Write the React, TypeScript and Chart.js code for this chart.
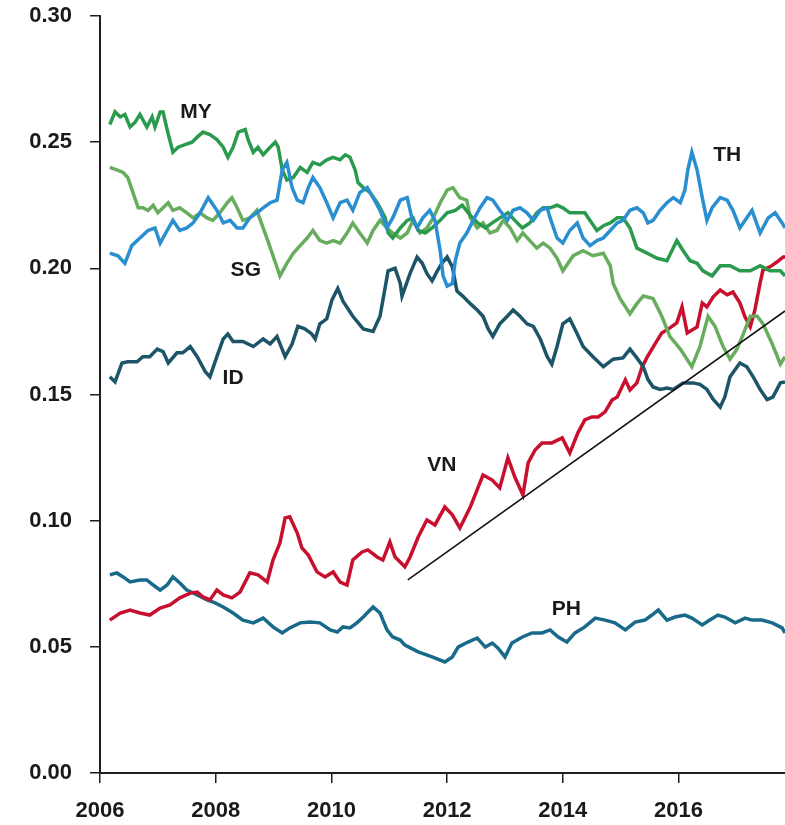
import React, { useEffect, useRef } from 'react';
import { Chart, registerables } from 'chart.js';

Chart.register(...registerables);

// ---------- axis ticks ----------
const X_TICKS = [2006, 2008, 2010, 2012, 2014, 2016];
const X_MIN = 2006;
const X_MAX = 2017.84;
const Y_TICKS = [0, 0.05, 0.1, 0.15, 0.2, 0.25, 0.3];

// ---------- series: MY ----------
const MY_YEARS = [2006.17,2006.26,2006.35,2006.43,2006.52,2006.61,2006.69,2006.81,2006.90,2006.95,
  2007.04,2007.09,2007.16,2007.26,2007.35,2007.47,2007.59,2007.68,2007.78,2007.90,
  2008.02,2008.13,2008.21,2008.30,2008.39,2008.51,2008.56,2008.65,2008.73,2008.82,
  2008.94,2009.03,2009.08,2009.15,2009.23,2009.34,2009.46,2009.58,2009.68,2009.80,
  2009.92,2010.03,2010.15,2010.24,2010.32,2010.41,2010.46,2010.55,2010.67,2010.79,
  2010.84,2010.93,2010.98,2011.06,2011.19,2011.31,2011.41,2011.50,2011.62,2011.74,
  2011.88,2012.00,2012.14,2012.26,2012.40,2012.53,2012.66,2012.78,2012.91,2013.05,
  2013.17,2013.30,2013.43,2013.55,2013.66,2013.78,2013.90,2014.00,2014.12,2014.25,
  2014.38,2014.50,2014.59,2014.71,2014.82,2014.94,2015.04,2015.16,2015.28,2015.46,
  2015.63,2015.80,2015.97,2016.08,2016.20,2016.32,2016.42,2016.58,2016.72,2016.89,
  2017.06,2017.24,2017.41,2017.58,2017.76,2017.84];
const MY_VALUES = [0.257,0.262,0.260,0.261,0.256,0.258,0.261,0.256,0.260,0.256,
  0.262,0.262,0.255,0.246,0.248,0.249,0.250,0.252,0.254,0.253,
  0.251,0.248,0.244,0.248,0.254,0.255,0.251,0.246,0.248,0.245,
  0.248,0.250,0.248,0.239,0.235,0.236,0.240,0.238,0.242,0.241,
  0.243,0.244,0.243,0.245,0.244,0.239,0.234,0.232,0.230,0.226,
  0.224,0.220,0.214,0.212,0.216,0.219,0.220,0.215,0.214,0.216,
  0.219,0.222,0.223,0.225,0.221,0.218,0.216,0.218,0.220,0.222,
  0.219,0.216,0.218,0.222,0.224,0.224,0.225,0.224,0.222,0.222,
  0.222,0.218,0.215,0.217,0.218,0.220,0.220,0.216,0.208,0.206,
  0.204,0.203,0.211,0.207,0.203,0.202,0.199,0.197,0.201,0.201,
  0.199,0.199,0.201,0.199,0.199,0.197];

// ---------- series: SG ----------
const SG_YEARS = [2006.17,2006.29,2006.40,2006.48,2006.57,2006.66,2006.74,2006.83,2006.92,2007.00,
  2007.09,2007.18,2007.26,2007.38,2007.50,2007.61,2007.73,2007.85,2007.95,2008.07,
  2008.20,2008.28,2008.37,2008.47,2008.59,2008.71,2008.82,2008.90,2008.99,2009.11,
  2009.23,2009.34,2009.46,2009.58,2009.68,2009.80,2009.92,2010.03,2010.15,2010.27,
  2010.37,2010.49,2010.62,2010.72,2010.84,2010.96,2011.06,2011.19,2011.31,2011.41,
  2011.53,2011.65,2011.76,2011.88,2012.00,2012.10,2012.22,2012.34,2012.40,2012.52,
  2012.62,2012.74,2012.86,2012.97,2013.09,2013.21,2013.31,2013.43,2013.55,2013.66,
  2013.78,2013.90,2014.00,2014.18,2014.35,2014.52,2014.70,2014.82,2014.87,2014.99,
  2015.16,2015.28,2015.39,2015.56,2015.71,2015.85,2016.03,2016.23,2016.37,2016.51,
  2016.63,2016.77,2016.89,2017.01,2017.12,2017.24,2017.36,2017.46,2017.62,2017.76,
  2017.84];
const SG_VALUES = [0.240,0.239,0.238,0.236,0.230,0.224,0.224,0.223,0.225,0.222,
  0.224,0.226,0.223,0.224,0.222,0.220,0.222,0.220,0.219,0.222,
  0.226,0.228,0.224,0.219,0.220,0.223,0.216,0.211,0.205,0.197,
  0.202,0.206,0.209,0.212,0.215,0.211,0.210,0.211,0.210,0.214,
  0.218,0.214,0.210,0.215,0.219,0.216,0.214,0.212,0.214,0.219,
  0.214,0.216,0.220,0.226,0.231,0.232,0.228,0.227,0.220,0.216,
  0.218,0.214,0.215,0.219,0.216,0.211,0.214,0.211,0.208,0.210,
  0.208,0.204,0.199,0.205,0.207,0.205,0.206,0.201,0.194,0.188,
  0.182,0.186,0.189,0.188,0.181,0.173,0.168,0.161,0.169,0.181,
  0.177,0.169,0.164,0.168,0.174,0.181,0.181,0.178,0.170,0.162,
  0.165];

// ---------- series: TH ----------
const TH_YEARS = [2006.17,2006.31,2006.43,2006.55,2006.69,2006.83,2006.95,2007.04,2007.16,2007.26,
  2007.38,2007.50,2007.61,2007.73,2007.87,2008.02,2008.13,2008.25,2008.37,2008.47,
  2008.59,2008.71,2008.82,2008.94,2009.06,2009.15,2009.23,2009.32,2009.41,2009.51,
  2009.60,2009.68,2009.80,2009.92,2010.03,2010.15,2010.27,2010.37,2010.49,2010.62,
  2010.72,2010.84,2010.96,2011.06,2011.19,2011.31,2011.39,2011.48,2011.58,2011.70,
  2011.79,2011.88,2011.93,2012.00,2012.09,2012.14,2012.22,2012.34,2012.45,2012.57,
  2012.69,2012.79,2012.91,2013.04,2013.14,2013.26,2013.38,2013.49,2013.61,2013.73,
  2013.78,2013.90,2014.00,2014.12,2014.25,2014.35,2014.47,2014.59,2014.70,2014.82,
  2014.94,2015.04,2015.16,2015.28,2015.39,2015.47,2015.56,2015.68,2015.80,2015.91,
  2016.03,2016.11,2016.16,2016.23,2016.32,2016.41,2016.49,2016.58,2016.72,2016.84,
  2016.94,2017.06,2017.18,2017.27,2017.41,2017.55,2017.67,2017.79,2017.84];
const TH_VALUES = [0.206,0.205,0.202,0.209,0.212,0.215,0.216,0.210,0.215,0.219,
  0.215,0.216,0.218,0.222,0.228,0.223,0.218,0.219,0.216,0.216,
  0.220,0.222,0.224,0.226,0.227,0.239,0.242,0.232,0.227,0.226,
  0.232,0.236,0.232,0.226,0.220,0.226,0.227,0.223,0.230,0.232,
  0.228,0.223,0.216,0.220,0.227,0.228,0.220,0.216,0.220,0.223,
  0.219,0.207,0.197,0.193,0.194,0.203,0.210,0.214,0.219,0.224,
  0.228,0.227,0.223,0.219,0.223,0.224,0.222,0.219,0.223,0.224,
  0.220,0.212,0.210,0.215,0.218,0.212,0.209,0.211,0.212,0.215,
  0.218,0.219,0.223,0.224,0.222,0.218,0.219,0.223,0.226,0.228,
  0.226,0.231,0.239,0.246,0.239,0.228,0.219,0.224,0.228,0.227,
  0.223,0.216,0.220,0.223,0.214,0.220,0.222,0.218,0.216];

// ---------- series: ID ----------
const ID_YEARS = [2006.17,2006.26,2006.38,2006.48,2006.64,2006.74,2006.86,2006.99,2007.09,2007.18,
  2007.33,2007.43,2007.56,2007.68,2007.82,2007.90,2008.02,2008.13,2008.21,2008.30,
  2008.47,2008.65,2008.82,2008.94,2009.06,2009.20,2009.32,2009.42,2009.54,2009.66,
  2009.72,2009.80,2009.92,2010.01,2010.11,2010.20,2010.37,2010.55,2010.72,2010.84,
  2010.98,2011.10,2011.19,2011.22,2011.36,2011.48,2011.57,2011.65,2011.74,2011.83,
  2011.91,2012.00,2012.09,2012.17,2012.27,2012.40,2012.52,2012.62,2012.71,2012.79,
  2012.91,2013.04,2013.14,2013.26,2013.38,2013.49,2013.61,2013.73,2013.81,2013.90,
  2014.00,2014.12,2014.25,2014.35,2014.52,2014.70,2014.87,2015.04,2015.16,2015.28,
  2015.39,2015.47,2015.56,2015.68,2015.80,2015.91,2016.08,2016.25,2016.37,2016.49,
  2016.60,2016.72,2016.80,2016.89,2017.06,2017.18,2017.29,2017.41,2017.53,2017.63,
  2017.76,2017.84];
const ID_VALUES = [0.157,0.155,0.1625,0.163,0.163,0.165,0.165,0.168,0.167,0.1625,
  0.1665,0.1665,0.169,0.165,0.159,0.157,0.165,0.172,0.174,0.171,
  0.171,0.169,0.172,0.170,0.173,0.165,0.170,0.177,0.176,0.174,
  0.172,0.178,0.180,0.1875,0.192,0.187,0.181,0.176,0.175,0.181,
  0.199,0.200,0.194,0.189,0.198,0.2045,0.202,0.198,0.195,0.199,
  0.202,0.2045,0.2006,0.191,0.189,0.186,0.1835,0.181,0.176,0.173,
  0.178,0.181,0.1835,0.181,0.178,0.177,0.172,0.165,0.162,0.169,
  0.178,0.180,0.174,0.169,0.165,0.161,0.164,0.1645,0.168,0.1645,
  0.161,0.156,0.153,0.152,0.1526,0.152,0.1546,0.1546,0.154,0.152,
  0.148,0.145,0.149,0.157,0.1625,0.161,0.157,0.152,0.148,0.149,
  0.1546,0.155];

// ---------- series: VN ----------
const VN_YEARS = [2006.17,2006.35,2006.52,2006.69,2006.86,2007.04,2007.21,2007.38,2007.56,2007.68,
  2007.78,2007.90,2008.02,2008.13,2008.28,2008.42,2008.59,2008.73,2008.89,2008.99,
  2009.11,2009.20,2009.28,2009.41,2009.49,2009.60,2009.75,2009.89,2010.03,2010.15,
  2010.27,2010.37,2010.53,2010.63,2010.79,2010.89,2011.01,2011.10,2011.27,2011.36,
  2011.50,2011.65,2011.79,2011.96,2012.09,2012.22,2012.40,2012.62,2012.78,2012.91,
  2013.05,2013.17,2013.31,2013.40,2013.52,2013.64,2013.81,2013.99,2014.12,2014.26,
  2014.38,2014.50,2014.61,2014.73,2014.85,2014.94,2015.08,2015.16,2015.28,2015.37,
  2015.46,2015.56,2015.71,2015.85,2015.97,2016.06,2016.15,2016.32,2016.41,2016.49,
  2016.60,2016.72,2016.84,2016.94,2017.06,2017.15,2017.24,2017.32,2017.41,2017.46,
  2017.58,2017.70,2017.81,2017.84];
const VN_VALUES = [0.0606,0.0634,0.0646,0.0634,0.0626,0.0654,0.0666,0.0694,0.0713,0.0717,
  0.0698,0.0686,0.0725,0.0706,0.0694,0.0717,0.0793,0.0785,0.0757,0.0844,
  0.0912,0.1011,0.1015,0.0951,0.0892,0.0864,0.0797,0.0777,0.0797,0.0757,
  0.0745,0.0844,0.0876,0.0884,0.0856,0.0844,0.0916,0.0856,0.0817,0.0856,
  0.0935,0.1003,0.0983,0.1054,0.1023,0.0971,0.1054,0.1181,0.1161,0.1130,
  0.1249,0.1173,0.1102,0.1229,0.1280,0.1308,0.1308,0.1328,0.1268,0.1348,
  0.1399,0.1411,0.1411,0.1431,0.1478,0.1490,0.1558,0.1518,0.1546,0.1609,
  0.1649,0.1688,0.1744,0.1764,0.1784,0.1847,0.1744,0.1768,0.1863,0.1847,
  0.1887,0.1914,0.1895,0.1906,0.1863,0.1807,0.1768,0.1835,0.1942,0.1994,
  0.2006,0.2025,0.2045,0.2045];

// ---------- series: PH ----------
const PH_YEARS = [2006.17,2006.29,2006.40,2006.52,2006.69,2006.81,2006.92,2007.04,2007.16,2007.26,
  2007.38,2007.50,2007.68,2007.85,2007.99,2008.13,2008.30,2008.47,2008.65,2008.82,
  2008.99,2009.15,2009.28,2009.46,2009.63,2009.80,2009.98,2010.10,2010.20,2010.32,
  2010.44,2010.55,2010.72,2010.84,2010.96,2011.06,2011.19,2011.27,2011.50,2011.74,
  2011.96,2012.09,2012.19,2012.36,2012.52,2012.66,2012.78,2012.88,2013.00,2013.12,
  2013.30,2013.47,2013.64,2013.78,2013.92,2014.07,2014.21,2014.38,2014.56,2014.73,
  2014.90,2015.08,2015.25,2015.42,2015.54,2015.65,2015.80,2015.94,2016.11,2016.23,
  2016.41,2016.54,2016.68,2016.80,2016.98,2017.15,2017.27,2017.44,2017.62,2017.79,
  2017.84];
const PH_VALUES = [0.0785,0.0793,0.0777,0.0757,0.0765,0.0765,0.0745,0.0725,0.0745,0.0777,
  0.0753,0.0725,0.0706,0.0686,0.0674,0.0658,0.0634,0.0606,0.0595,0.0614,
  0.0579,0.0555,0.0575,0.0595,0.0598,0.0595,0.0567,0.0559,0.0579,0.0575,
  0.0595,0.0618,0.0658,0.0634,0.0567,0.0539,0.0527,0.0507,0.0480,0.0460,
  0.0440,0.0460,0.0499,0.0519,0.0535,0.0499,0.0515,0.0495,0.0460,0.0515,
  0.0539,0.0555,0.0555,0.0567,0.0539,0.0519,0.0555,0.0579,0.0614,0.0606,
  0.0595,0.0567,0.0598,0.0606,0.0626,0.0646,0.0606,0.0618,0.0626,0.0614,
  0.0587,0.0606,0.0626,0.0618,0.0595,0.0614,0.0606,0.0606,0.0595,0.0575,
  0.0555];

// ---------- VN trend line ----------
const TREND_YEARS = [2011.32, 2017.84];
const TREND_VALUES = [0.0765, 0.1831];

// ---------- series labels (anchor in data units) ----------
const LABEL_NAMES = ['MY', 'SG', 'TH', 'ID', 'VN', 'PH'];
const LABEL_YEARS = [2007.66, 2008.52, 2016.84, 2008.30, 2011.91, 2014.06];
const LABEL_VALUES = [0.262, 0.1994, 0.245, 0.1566, 0.122, 0.065];

const FONT = '"Liberation Sans", Arial, Helvetica, sans-serif';
const TEXT_COLOR = '#1a1a1a';
const AXIS_COLOR = '#1f1f1f';

const toPoints = (xs: number[], ys: number[]) => {
  const n = Math.min(xs.length, ys.length);
  const out: { x: number; y: number }[] = [];
  for (let i = 0; i < n; i++) out.push({ x: xs[i], y: ys[i] });
  return out;
};

const seriesLabelPlugin = {
  id: 'seriesLabels',
  afterDatasetsDraw(chart: any) {
    const { ctx, scales } = chart;
    const xs = scales.x;
    const ys = scales.y;
    ctx.save();
    ctx.font = `bold 21px ${FONT}`;
    ctx.fillStyle = TEXT_COLOR;
    ctx.textAlign = 'center';
    ctx.textBaseline = 'middle';
    LABEL_NAMES.forEach((name, i) => {
      ctx.fillText(name, xs.getPixelForValue(LABEL_YEARS[i]), ys.getPixelForValue(LABEL_VALUES[i]));
    });
    ctx.restore();
  },
};

export default function App() {
  const canvasRef = useRef<HTMLCanvasElement>(null);

  useEffect(() => {
    const canvas = canvasRef.current;
    if (!canvas) return;
    const line = (label: string, xs: number[], ys: number[], color: string, width: number, order: number) => ({
      label,
      data: toPoints(xs, ys),
      borderColor: color,
      backgroundColor: color,
      borderWidth: width,
      pointRadius: 0,
      tension: 0,
      fill: false,
      order,
    });

    const chart = new Chart(canvas, {
      type: 'line',
      data: {
        datasets: [
          line('TH', TH_YEARS, TH_VALUES, '#2a8fd0', 3.5, 1),
          line('MY', MY_YEARS, MY_VALUES, '#2a9a4c', 3.5, 2),
          line('SG', SG_YEARS, SG_VALUES, '#67ad5d', 3.5, 3),
          line('ID', ID_YEARS, ID_VALUES, '#1c5468', 3.5, 4),
          line('VN', VN_YEARS, VN_VALUES, '#c8102e', 3.5, 5),
          line('PH', PH_YEARS, PH_VALUES, '#18698a', 3.5, 6),
          line('trend', TREND_YEARS, TREND_VALUES, '#111111', 1.5, 0),
        ] as any,
      },
      options: {
        responsive: false,
        animation: false,
        events: [],
        layout: { padding: { top: 16, right: 0, bottom: 0, left: 0 } },
        plugins: {
          legend: { display: false },
          tooltip: { enabled: false },
          title: { display: false },
        },
        scales: {
          x: {
            type: 'linear',
            min: X_MIN,
            max: X_MAX,
            afterBuildTicks: (scale: any) => {
              scale.ticks = X_TICKS.map((v) => ({ value: v }));
            },
            afterFit: (scale: any) => {
              scale.height = 52;
              scale.paddingRight = 0;
            },
            ticks: {
              autoSkip: false,
              maxRotation: 0,
              padding: 15,
              color: TEXT_COLOR,
              font: { family: FONT, size: 22, weight: 'bold' },
              callback: (v: any) => String(v),
            },
            grid: {
              display: true,
              drawOnChartArea: false,
              drawTicks: true,
              tickLength: 10,
              color: AXIS_COLOR,
              lineWidth: 1.5,
            },
            border: { display: true, color: AXIS_COLOR, width: 2 },
          },
          y: {
            type: 'linear',
            min: 0,
            max: 0.3,
            afterBuildTicks: (scale: any) => {
              scale.ticks = Y_TICKS.map((v) => ({ value: v }));
            },
            afterFit: (scale: any) => {
              scale.width = 100;
              scale.paddingTop = 0;
              scale.paddingBottom = 0;
            },
            ticks: {
              padding: 18,
              color: TEXT_COLOR,
              font: { family: FONT, size: 22, weight: 'bold' },
              callback: (v: any) => Number(v).toFixed(2),
            },
            grid: {
              display: true,
              drawOnChartArea: false,
              drawTicks: true,
              tickLength: 10,
              color: AXIS_COLOR,
              lineWidth: 1.5,
            },
            border: { display: true, color: AXIS_COLOR, width: 2 },
          },
        },
      } as any,
      plugins: [seriesLabelPlugin],
    });

    return () => {
      chart.destroy();
    };
  }, []);

  return (
    <div style={{ position: 'absolute', left: 0, top: 0, width: 785, height: 825, background: '#ffffff' }}>
      <canvas ref={canvasRef} width={785} height={825} style={{ display: 'block' }} />
    </div>
  );
}
